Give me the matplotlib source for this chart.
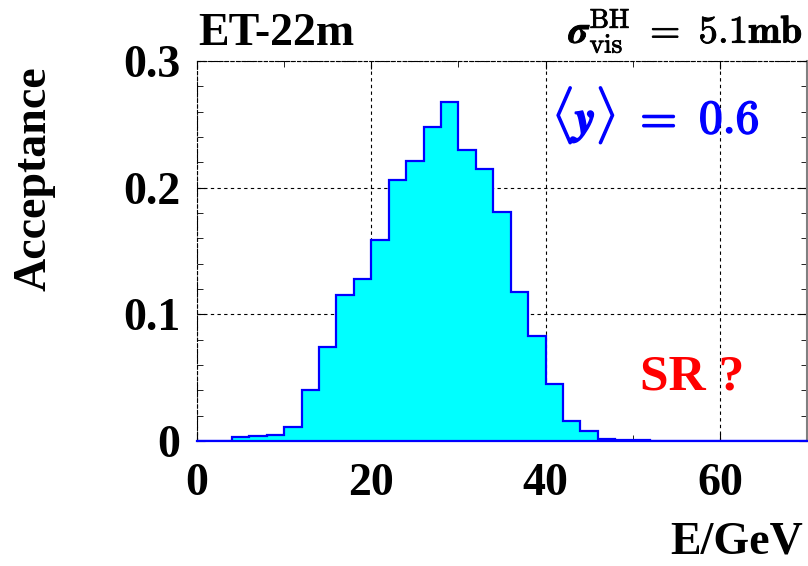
import numpy as np
import matplotlib
matplotlib.use('Agg')
import matplotlib.pyplot as plt
import matplotlib.patheffects as pe

# histogram: acceptance per 2 GeV bin
bin_edges = np.arange(0, 72, 2)
acceptance = [0.0, 0.0, 0.0034, 0.004, 0.0045, 0.011, 0.040, 0.074, 0.115,
              0.128, 0.159, 0.206, 0.221, 0.248, 0.268, 0.230, 0.215, 0.181,
              0.118, 0.083, 0.045, 0.016, 0.008, 0.0013, 0.0006, 0.0004,
              0.0002, 0.0, 0.0, 0.0, 0.0, 0.0, 0.0, 0.0, 0.0]
x_ticks = [0, 20, 40, 60]
y_ticks = [0, 0.1, 0.2, 0.3]
y_ticklabels = ['0', '0.1', '0.2', '0.3']

plt.rcParams['font.family'] = ['Liberation Serif', 'DejaVu Serif']
plt.rcParams['font.weight'] = 'bold'
plt.rcParams['mathtext.fontset'] = 'cm'

fig = plt.figure(figsize=(8.08, 5.66), dpi=100)
ax = fig.add_axes([197 / 808, 125 / 566, 610 / 808, 380 / 566])

ax.stairs(acceptance, bin_edges, fill=True, color='#00ffff', zorder=2)
ax.stairs(acceptance, bin_edges, color='#0000ff', linewidth=1.6, zorder=3)

ax.set_xlim(0, 70)
ax.set_ylim(0, 0.3)
ax.set_xticks(x_ticks)
ax.set_xticks(np.arange(0, 71, 10), minor=True)
ax.set_yticks(y_ticks)
ax.set_yticklabels(y_ticklabels)
ax.set_yticks(np.arange(0, 0.301, 0.02), minor=True)
ax.tick_params(which='both', direction='in', top=True, right=True)
ax.tick_params(which='major', length=6, labelsize=33, pad=12)
ax.tick_params(which='minor', length=4)
ax.tick_params(axis='x', pad=16)

ax.grid(True, which='major', color='black', linestyle=(0, (3, 3)), linewidth=0.8, zorder=1)
ax.set_axisbelow(True)

ax.spines['top'].set_linestyle((0, (3, 2)))
ax.spines['left'].set_linestyle((0, (3, 2)))
ax.spines['right'].set_color('#808080')
ax.spines['right'].set_linewidth(1.5)
ax.spines['bottom'].set_color('#0000ff')
ax.spines['bottom'].set_linewidth(1.6)

# thicken the computer-modern bold a bit, like the bold extended in the original
fat_blue = [pe.withStroke(linewidth=1.2, foreground='#0000ff')]
fat_black = [pe.withStroke(linewidth=0.6, foreground='black')]

ax.text(40.8, 0.257, r'$\langle \boldsymbol{y} \rangle\ =\ \mathbf{0.6}$',
        color='#0000ff', fontsize=34, ha='left', va='center', path_effects=fat_blue)
ax.text(50.8, 0.05, 'SR ?', color='#ff0000', fontsize=37,
        fontweight='bold', ha='left', va='center')

fig.text(198 / 808, 1 - 45 / 566, 'ET-22m', fontsize=33, fontweight='bold',
         ha='left', va='baseline')
fig.text(803 / 808, 1 - 43 / 566,
         r'$\boldsymbol{\sigma}^{\rm BH}_{\rm vis}\ =\ \mathbf{5.1mb}$',
         fontsize=28, ha='right', va='baseline', path_effects=fat_black)
fig.text(35 / 808, 1 - 179 / 566, 'Acceptance', fontsize=33, fontweight='bold',
         rotation=90, ha='center', va='center')
fig.text(803 / 808, 1 - 553 / 566, 'E/GeV', fontsize=33, fontweight='bold',
         ha='right', va='baseline')

plt.savefig('out.png', dpi=100)
